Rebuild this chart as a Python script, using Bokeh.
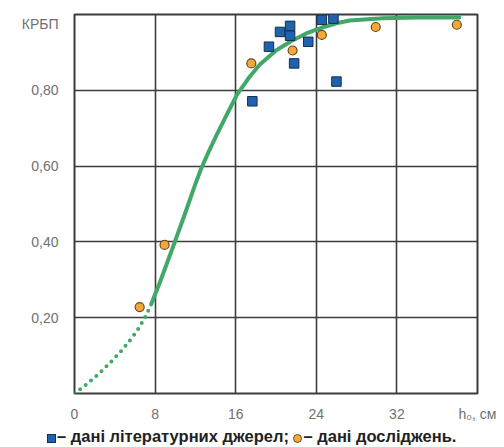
from bokeh.plotting import figure
from bokeh.layouts import column
from bokeh.models import Range1d, FixedTicker, Div
from bokeh.embed import file_html
from bokeh.resources import INLINE

# literature data (squares)
lit_x = [17.65, 19.3, 20.4, 21.4, 21.4, 21.8, 23.2, 24.55, 25.7, 26.0]
lit_y = [0.771, 0.915, 0.954, 0.970, 0.944, 0.871, 0.928, 0.986, 0.989, 0.823]

# research data (circles)
res_x = [6.47, 8.94, 17.55, 21.65, 24.55, 29.9, 37.95]
res_y = [0.228, 0.392, 0.871, 0.905, 0.946, 0.967, 0.973]

# fitted curve, dotted part (extrapolation)
dot_x = [0.0, 1.2, 2.5, 3.6, 4.7, 5.5, 6.2, 7.0, 7.6]
dot_y = [0.0, 0.024, 0.054, 0.083, 0.114, 0.140, 0.165, 0.200, 0.235]

# fitted curve, solid part
sol_x = [7.6, 8.5, 10.0, 11.0, 12.0, 12.6, 13.3, 14.1, 15.1, 16.1, 17.3, 18.4, 20.0, 21.4, 23.0, 24.5, 26.0, 27.3, 30.6, 34.0, 38.2]
sol_y = [0.235, 0.295, 0.403, 0.477, 0.553, 0.595, 0.637, 0.682, 0.735, 0.787, 0.833, 0.868, 0.905, 0.928, 0.950, 0.965, 0.977, 0.984, 0.990, 0.992, 0.992]

x_ticks = [0, 8, 16, 24, 32, 40]
x_tick_labels = {40: "h₀, см"}
y_ticks = [0.2, 0.4, 0.6, 0.8, 0.975]
y_tick_labels = {0.2: "0,20", 0.4: "0,40", 0.6: "0,60", 0.8: "0,80", 0.975: "КРБП"}
grid_x = [8, 16, 24, 32]
grid_y = [0.2, 0.4, 0.6, 0.8]

lit_label = "– дані літературних джерел;"
res_label = "– дані досліджень."

GRID = "#3c3c3c"
GREEN = "#41a86a"
BLUE = "#1f63ad"
ORANGE = "#f2a93b"

p = figure(width=500, height=424, output_backend="svg", toolbar_location=None,
           x_range=Range1d(0, 40), y_range=Range1d(0, 1.0),
           min_border_left=74, min_border_right=23, min_border_top=14, min_border_bottom=26)
p.background_fill_color = "white"
p.border_fill_color = "white"
p.outline_line_color = GRID
p.outline_line_width = 2

p.xaxis.ticker = FixedTicker(ticks=x_ticks)
p.xaxis.major_label_overrides = x_tick_labels
p.yaxis.ticker = FixedTicker(ticks=y_ticks)
p.yaxis.major_label_overrides = y_tick_labels
for ax in (p.xaxis[0], p.yaxis[0]):
    ax.axis_line_color = None
    ax.major_tick_line_color = None
    ax.minor_tick_line_color = None
    ax.major_label_text_font = "Liberation Sans"
    ax.major_label_text_font_size = "14px"
    ax.major_label_text_color = "#707070"
p.yaxis.major_label_standoff = 10
p.xaxis.major_label_standoff = 6

p.xgrid.ticker = FixedTicker(ticks=grid_x)
p.ygrid.ticker = FixedTicker(ticks=grid_y)
for g in (p.xgrid[0], p.ygrid[0]):
    g.grid_line_color = GRID
    g.grid_line_width = 1.6

p.line(dot_x, dot_y, line_color=GREEN, line_width=4, line_dash="0 7", line_cap="round")
p.line(sol_x, sol_y, line_color=GREEN, line_width=4, line_cap="round", line_join="round")

p.scatter(lit_x, lit_y, marker="square", size=9.5, fill_color=BLUE,
          line_color="#14304f", line_width=1)
p.scatter(res_x, res_y, marker="circle", size=9, fill_color=ORANGE,
          line_color="#6b4a1a", line_width=1.2)

sq_style = (f"display:inline-block;width:9px;height:9px;background:{BLUE};"
            "border:1px solid #14304f;vertical-align:-1px;margin-right:1px")
ci_style = (f"display:inline-block;width:9px;height:9px;background:{ORANGE};"
            "border:1px solid #6b4a1a;border-radius:50%;vertical-align:-1px;margin-right:1px")
legend_html = (
    "<div style=\"font-family:'Liberation Sans',Arial,sans-serif;font-weight:bold;"
    "font-size:16.5px;color:#222222;padding-left:47px;padding-top:2px;line-height:21px;"
    "white-space:nowrap\">"
    f"<span style=\"{sq_style}\"></span>{lit_label} "
    f"<span style=\"{ci_style}\"></span>{res_label}</div>"
)
lg = Div(text=legend_html, width=500, height=23, margin=(0, 0, 0, 0))

layout = column(p, lg, spacing=0)
open("out.html", "w").write(file_html(layout, INLINE))
